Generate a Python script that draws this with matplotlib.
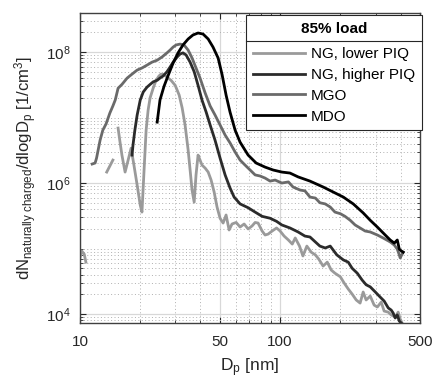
import matplotlib
matplotlib.use("Agg")
import matplotlib.pyplot as plt
from matplotlib.ticker import FixedLocator, NullFormatter, LogFormatterMathtext
from matplotlib.lines import Line2D

plt.rcParams['font.family'] = ['Liberation Sans', 'DejaVu Sans']
plt.rcParams['mathtext.fontset'] = 'custom'
plt.rcParams['mathtext.rm'] = 'Liberation Sans'
plt.rcParams['mathtext.it'] = 'Liberation Sans:italic'
plt.rcParams['mathtext.default'] = 'regular'

# ---------------- data ----------------
ng_low_a_d = [10.0, 10.2, 10.5, 10.7]
ng_low_a_n = [7.2e4, 9.2e4, 8.2e4, 6.2e4]
ng_low_b_d = [13.6, 14.1, 14.6]
ng_low_b_n = [1.47e6, 1.82e6, 2.24e6]
ng_low_d = [15.5, 15.8, 16.2, 16.8, 17.4, 18.0, 18.6, 19.3, 20.0, 20.4, 20.9, 21.4, 21.9,
            22.4, 23.2, 24.0, 24.8, 25.4, 26.3, 27.2, 28.5, 29.9, 31.3, 32.4, 33.5, 34.7,
            35.5, 36.3, 37.2, 38.0, 38.9, 39.8, 40.7, 42.2, 43.7, 45.2, 46.8, 48.4, 50.1,
            51.9, 53.7, 55.6, 57.5, 60.3, 63.1, 66.1, 69.2, 72.4, 75.0, 77.6, 81.3, 84.1,
            87.1, 91.2, 96.0, 100, 104.7, 110, 115, 119, 125, 130, 136, 143, 150, 156, 164,
            172, 180, 188, 200, 209, 219, 229, 240, 251, 260, 269, 282, 295, 306, 320, 331,
            347, 359, 376, 389, 398, 407]
ng_low_n = [6.9e6, 4.5e6, 2.67e6, 1.47e6, 2.24e6, 3.4e6, 1.88e6, 9.3e5, 4.6e5, 3.6e5, 1.58e6,
            6.4e6, 1.3e7, 1.99e7, 2.8e7, 3.7e7, 4.3e7, 4.6e7, 4.5e7, 4.15e7, 3.7e7, 3.1e7,
            2.2e7, 1.4e7, 7.7e6, 3.2e6, 1.58e6, 7.8e5, 5.1e5, 1.33e6, 2.67e6, 2.24e6, 1.88e6,
            1.69e6, 1.47e6, 1.11e6, 7.3e5, 4.3e5, 2.9e5, 2.45e5, 3.25e5, 1.92e5, 2.37e5,
            2.5e5, 2.13e5, 2.37e5, 1.99e5, 2.21e5, 2.5e5, 2.45e5, 1.85e5, 1.61e5, 1.66e5,
            1.85e5, 2.06e5, 1.85e5, 1.55e5, 1.35e5, 1.17e5, 1.45e5, 1.09e5, 7.7e4, 1.09e5,
            8.8e4, 8.0e4, 6.9e4, 5.4e4, 6.2e4, 4.7e4, 4.2e4, 3.7e4, 2.97e4, 2.41e4, 2.02e4,
            1.64e4, 1.47e4, 2.17e4, 1.64e4, 1.88e4, 1.37e4, 1.28e4, 1.52e4, 1.11e4, 1.07e4,
            9.7e3, 9.0e3, 1.07e4, 8.4e3, 7.3e3]

ng_high_d = [18.2, 18.4, 18.8, 19.3, 20.0, 20.7, 21.6, 22.4, 23.2, 24.3, 25.1, 26.0, 27.2,
             28.2, 29.2, 30.6, 31.6, 32.7, 33.9, 35.5, 37.2, 38.9, 40.7, 42.7, 44.7, 47.3,
             50.1, 53.1, 56.2, 58.9, 63.1, 69.2, 75.0, 81.3, 89.1, 96.0, 102, 112, 123, 133,
             141, 150, 158, 168, 178, 192, 207, 219, 229, 243, 257, 269, 282, 299, 316, 331,
             347, 359, 367, 376, 385, 394, 403]
ng_high_n = [2.67e6, 3.8e6, 6.4e6, 1.09e7, 1.85e7, 2.45e7, 2.9e7, 3.2e7, 3.5e7, 3.7e7, 4.0e7,
             4.3e7, 5.0e7, 5.9e7, 7.0e7, 8.4e7, 9.3e7, 9.7e7, 9.0e7, 7.0e7, 5.0e7, 3.1e7,
             1.85e7, 1.21e7, 7.7e6, 4.5e6, 2.41e6, 1.33e6, 8.4e5, 6.1e5, 4.8e5, 4.2e5, 3.6e5,
             3.1e5, 2.9e5, 2.6e5, 2.29e5, 2.06e5, 1.79e5, 1.55e5, 1.5e5, 1.26e5, 1.09e5,
             1.02e5, 1.09e5, 8.0e4, 6.7e4, 6.2e4, 5.0e4, 4.2e4, 3.3e4, 2.8e4, 2.6e4, 2.17e4,
             1.82e4, 1.58e4, 1.24e4, 1.15e4, 1.04e4, 8.7e3, 9.7e3, 7.8e3, 7.3e3]

mgo_d = [11.5, 11.9, 12.1, 12.6, 13.0, 13.5, 14.1, 14.6, 15.0, 15.5, 16.2, 17.2, 18.2, 19.3,
         20.4, 21.6, 22.9, 24.3, 25.7, 27.2, 28.2, 29.2, 30.2, 31.6, 33.1, 34.7, 36.3, 38.0,
         39.8, 42.2, 44.7, 47.3, 50.1, 53.1, 56.2, 59.6, 63.1, 66.8, 70.8, 75.0, 79.4, 84.1,
         89.1, 94.4, 102, 110, 116, 126, 133, 141, 150, 158, 168, 178, 188, 200, 211, 224,
         237, 251, 266, 282, 306, 327, 355, 372, 385, 394, 398, 407, 412]
mgo_n = [1.95e6, 2.02e6, 2.41e6, 4.5e6, 6.4e6, 8.0e6, 1.17e7, 1.5e7, 1.85e7, 2.8e7, 3.2e7,
         4.0e7, 4.6e7, 5.3e7, 5.7e7, 6.3e7, 7.0e7, 7.5e7, 8.4e7, 9.7e7, 1.07e8, 1.19e8,
         1.28e8, 1.32e8, 1.28e8, 1.07e8, 8.1e7, 5.7e7, 4.0e7, 2.37e7, 1.5e7, 1.09e7, 7.7e6,
         5.4e6, 4.1e6, 2.97e6, 2.24e6, 1.88e6, 1.58e6, 1.33e6, 1.28e6, 1.19e6, 1.07e6,
         1.11e6, 1.0e6, 1.04e6, 8.7e5, 7.8e5, 7.6e5, 6.1e5, 5.9e5, 5.0e5, 4.8e5, 4.3e5,
         3.6e5, 3.4e5, 3.1e5, 2.7e5, 2.29e5, 2.06e5, 1.85e5, 1.79e5, 1.61e5, 1.45e5, 1.26e5,
         1.13e5, 9.8e4, 8.0e4, 7.2e4, 8.2e4, 8.8e4]

mdo_d = [24.3, 25.1, 26.3, 27.5, 29.2, 30.9, 32.7, 34.7, 36.7, 38.9, 41.2, 43.7, 46.2, 49.0,
         51.3, 53.7, 56.2, 59.6, 63.1, 69.2, 75.9, 84.1, 92.3, 102, 112, 123, 141, 164, 184,
         207, 232, 260, 282, 306, 335, 355, 372, 385, 394, 403, 412]
mdo_n = [8.5e6, 1.85e7, 3.0e7, 4.3e7, 6.8e7, 9.7e7, 1.28e8, 1.58e8, 1.82e8, 1.95e8, 1.88e8,
         1.58e8, 1.19e8, 8.1e7, 4.5e7, 2.2e7, 1.21e7, 6.4e6, 4.2e6, 2.67e6, 2.02e6, 1.75e6,
         1.58e6, 1.47e6, 1.42e6, 1.24e6, 1.07e6, 8.7e5, 7.3e5, 6.1e5, 4.8e5, 3.5e5, 2.7e5,
         2.13e5, 1.61e5, 1.35e5, 1.21e5, 1.35e5, 9.8e4, 9.2e4, 8.8e4]

labels = ['NG, lower PIQ', 'NG, higher PIQ', 'MGO', 'MDO']
colors = ['#9a9a9a', '#2b2b2b', '#6a6a6a', '#000000']
x_ticks = [10, 50, 100, 500]
x_tick_labels = ['10', '50', '100', '500']
y_ticks = [1e4, 1e6, 1e8]
legend_title = '85% load'

# ---------------- figure ----------------
fig = plt.figure(figsize=(4.35, 3.78), dpi=100)
ax = fig.add_axes([80/435, 1 - 323/378, 340/435, 310/378])
lw = 2.0

ax.plot(ng_low_a_d, ng_low_a_n, color=colors[0], lw=lw)
ax.plot(ng_low_b_d, ng_low_b_n, color=colors[0], lw=lw)
h1, = ax.plot(ng_low_d, ng_low_n, color=colors[0], lw=lw, label=labels[0])
h2, = ax.plot(ng_high_d, ng_high_n, color=colors[1], lw=lw, label=labels[1])
h3, = ax.plot(mgo_d, mgo_n, color=colors[2], lw=lw, label=labels[2])
h4, = ax.plot(mdo_d, mdo_n, color=colors[3], lw=lw, label=labels[3])

ax.set_xscale('log')
ax.set_yscale('log')
ax.set_xlim(10, 500)
ax.set_ylim(7.3e3, 3.94e8)

ax.xaxis.set_major_locator(FixedLocator(x_ticks))
ax.set_xticklabels(x_tick_labels)
xminor = [20, 30, 40, 60, 70, 80, 90, 200, 300, 400]
ax.xaxis.set_minor_locator(FixedLocator(xminor))
ax.xaxis.set_minor_formatter(NullFormatter())

ax.yaxis.set_major_locator(FixedLocator(y_ticks))
ax.yaxis.set_major_formatter(LogFormatterMathtext())
yminor = [m * 10**e for e in range(3, 9) for m in range(1, 10)
          if not (m == 1 and e in (4, 6, 8))]
ax.yaxis.set_minor_locator(FixedLocator(yminor))
ax.yaxis.set_minor_formatter(NullFormatter())

ax.grid(which='major', color='#d8d8d8', ls='-', lw=0.9)
ax.grid(which='minor', color='#b0b0b0', ls=(0, (1, 2.5)), lw=0.7)
ax.set_axisbelow(True)

ax.tick_params(which='both', direction='in', top=True, right=True,
               colors='#262626', labelsize=11)
ax.tick_params(which='major', length=4, width=0.8)
ax.tick_params(which='minor', length=2, width=0.6)
ax.tick_params(axis='y', which='major', pad=7)
ax.tick_params(axis='x', which='major', pad=9)
for s in ax.spines.values():
    s.set_color('#404040')
    s.set_linewidth(1.0)

ax.set_xlabel(r'D$_\mathrm{p}$ [nm]', fontsize=12.5, color='#262626', labelpad=5)
ax.set_ylabel(r'dN$_{\mathrm{naturally\ charged}}$/dlogD$_\mathrm{p}$ [1/cm$^3$]',
              fontsize=12, color='#262626', labelpad=5)

leg = ax.legend(handles=[h1, h2, h3, h4], title=legend_title, loc='upper right',
                bbox_to_anchor=(422/435, 1 - 15/378), bbox_transform=fig.transFigure,
                fontsize=11, title_fontsize=11, fancybox=False, framealpha=1,
                edgecolor='#262626', handlelength=3.4, handletextpad=0.4,
                labelspacing=0.45, borderpad=0.45, borderaxespad=0)
leg.get_title().set_fontweight('bold')
leg._legend_box.sep = 8
leg.get_frame().set_linewidth(0.8)
leg.set_zorder(10)

fig.canvas.draw()
r = fig.canvas.get_renderer()
fb = leg.get_frame().get_window_extent(r)
tb = leg.get_title().get_window_extent(r)
ysep = tb.y0 - 5
inv = fig.transFigure.inverted()
(x0f, yf), (x1f, _) = inv.transform([(fb.x0, ysep), (fb.x1, ysep)])
fig.add_artist(Line2D([x0f, x1f], [yf, yf], color='#262626', lw=0.8, zorder=11))

fig.savefig('out.png', dpi=100)
